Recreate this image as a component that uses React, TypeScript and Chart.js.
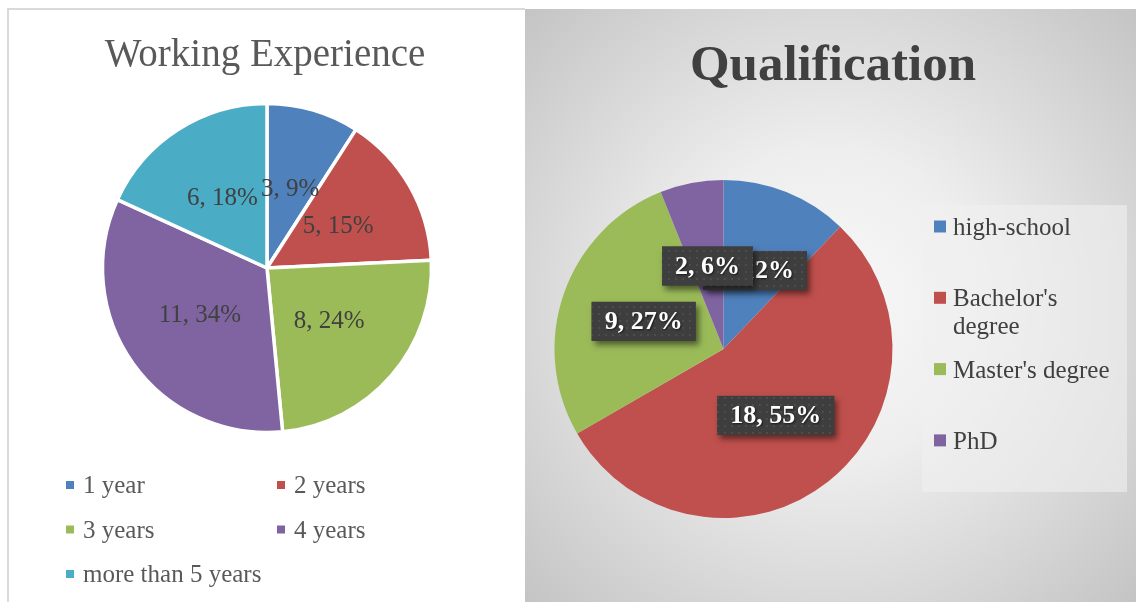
import React, { useEffect, useRef } from "react";
import { Chart, registerables } from "chart.js";

Chart.register(...registerables);

// ---------- data ----------
const expTitle = "Working Experience";
const expCategories = ["1 year", "2 years", "3 years", "4 years", "more than 5 years"];
const expValues = [3, 5, 8, 11, 6];
const expPercentLabels = ["9%", "15%", "24%", "34%", "18%"];

const qualTitle = "Qualification";
const qualCategories = ["high-school", "Bachelor's degree", "Master's degree", "PhD"];
const qualValues = [4, 18, 9, 2];
const qualPercentLabels = ["12%", "55%", "27%", "6%"];

const COLORS = ["#4F81BD", "#C0504D", "#9BBB59", "#8064A2", "#4BACC6"];
const SERIF = "'Liberation Serif', 'DejaVu Serif', serif";

// ---------- plugins ----------
const expPlugin = {
  id: "expDecor",
  afterDatasetsDraw(chart: any) {
    const ctx = chart.ctx;
    const meta = chart.getDatasetMeta(0);
    ctx.save();
    ctx.font = `25px ${SERIF}`;
    ctx.fillStyle = "#404040";
    ctx.textAlign = "center";
    ctx.textBaseline = "middle";
    meta.data.forEach((arc: any, i: number) => {
      const p = arc.getCenterPoint();
      ctx.fillText(`${expValues[i]}, ${expPercentLabels[i]}`, p.x, p.y);
    });
    ctx.restore();
  },
  afterDraw(chart: any) {
    const ctx = chart.ctx;
    ctx.save();
    // title
    ctx.font = `39px ${SERIF}`;
    ctx.fillStyle = "#595959";
    ctx.textAlign = "center";
    ctx.textBaseline = "alphabetic";
    ctx.fillText(expTitle, 265, 66);
    // legend (2 columns)
    ctx.font = `25px ${SERIF}`;
    ctx.textAlign = "left";
    const colX = [66, 277];
    expCategories.forEach((label, i) => {
      const col = i % 2;
      const row = Math.floor(i / 2);
      const cy = 485 + row * 44.5;
      ctx.fillStyle = COLORS[i];
      ctx.fillRect(colX[col], cy - 4, 8, 8);
      ctx.fillStyle = "#595959";
      ctx.fillText(label, colX[col] + 17, cy + 8);
    });
    ctx.restore();
  },
};

function makeDotPattern(ctx: CanvasRenderingContext2D) {
  const c = document.createElement("canvas");
  c.width = 7;
  c.height = 7;
  const g = c.getContext("2d")!;
  g.fillStyle = "#3e3e3e";
  g.fillRect(0, 0, 7, 7);
  g.fillStyle = "#4c4c4c";
  g.fillRect(3, 3, 2, 2);
  return ctx.createPattern(c, "repeat");
}

function wrapText(ctx: CanvasRenderingContext2D, text: string, maxW: number) {
  const words = text.split(" ");
  const lines: string[] = [];
  let cur = "";
  words.forEach((w) => {
    const t = cur ? cur + " " + w : w;
    if (ctx.measureText(t).width > maxW && cur) {
      lines.push(cur);
      cur = w;
    } else cur = t;
  });
  if (cur) lines.push(cur);
  return lines;
}

const qualPlugin = {
  id: "qualDecor",
  beforeDraw(chart: any) {
    const ctx = chart.ctx;
    const w = chart.width;
    const h = chart.height;
    ctx.save();
    const g = ctx.createRadialGradient(305, 296, 0, 305, 296, 440);
    g.addColorStop(0, "#f8f8f8");
    g.addColorStop(0.35, "#eeeeee");
    g.addColorStop(1, "#c2c2c2");
    ctx.fillStyle = g;
    ctx.fillRect(0, 0, w, h);
    // legend box
    ctx.fillStyle = "rgba(240,240,240,0.6)";
    ctx.fillRect(397, 196, 205, 287);
    ctx.restore();
  },
  afterDatasetsDraw(chart: any) {
    const ctx = chart.ctx;
    const meta = chart.getDatasetMeta(0);
    const pattern = makeDotPattern(ctx);
    ctx.save();
    ctx.font = `bold 26px ${SERIF}`;
    ctx.textAlign = "center";
    ctx.textBaseline = "middle";
    meta.data.forEach((arc: any, i: number) => {
      const p = arc.getCenterPoint();
      const text = `${qualValues[i]}, ${qualPercentLabels[i]}`;
      const tw = ctx.measureText(text).width;
      const bw = tw + 26;
      const bh = 39;
      const bx = p.x - bw / 2;
      const by = p.y - bh / 2;
      ctx.save();
      ctx.shadowColor = "rgba(0,0,0,0.5)";
      ctx.shadowBlur = 6;
      ctx.shadowOffsetX = 3;
      ctx.shadowOffsetY = 4;
      ctx.fillStyle = "#3e3e3e";
      ctx.fillRect(bx, by, bw, bh);
      ctx.restore();
      if (pattern) {
        ctx.fillStyle = pattern;
        ctx.fillRect(bx, by, bw, bh);
      }
      ctx.save();
      ctx.shadowColor = "rgba(0,0,0,0.6)";
      ctx.shadowBlur = 2;
      ctx.shadowOffsetX = 1;
      ctx.shadowOffsetY = 1;
      ctx.fillStyle = "#ffffff";
      ctx.fillText(text, p.x, p.y + 1);
      ctx.restore();
    });
    ctx.restore();
  },
  afterDraw(chart: any) {
    const ctx = chart.ctx;
    ctx.save();
    ctx.font = `bold 51px ${SERIF}`;
    ctx.fillStyle = "#404040";
    ctx.textAlign = "center";
    ctx.textBaseline = "alphabetic";
    ctx.fillText(qualTitle, 308, 71);
    // legend
    ctx.font = `25px ${SERIF}`;
    ctx.textAlign = "left";
    qualCategories.forEach((label, i) => {
      const base = 226 + i * 71.3;
      ctx.fillStyle = COLORS[i];
      ctx.fillRect(409, base - 14.5, 12, 12);
      ctx.fillStyle = "#404040";
      const lines = wrapText(ctx, label, 168);
      lines.forEach((ln, j) => ctx.fillText(ln, 428, base + j * 28));
    });
    ctx.restore();
  },
};

export default function App() {
  const leftRef = useRef<HTMLCanvasElement>(null);
  const rightRef = useRef<HTMLCanvasElement>(null);

  useEffect(() => {
    const left = new Chart(leftRef.current!, {
      type: "pie",
      data: {
        labels: expCategories,
        datasets: [
          {
            data: expValues,
            backgroundColor: COLORS.slice(0, expValues.length),
            borderColor: "#ffffff",
            borderWidth: 3.5,
            hoverOffset: 0,
            hoverBorderWidth: 0,
            radius: 164.5,
          },
        ],
      },
      options: {
        animation: false,
        responsive: false,
        events: [],
        layout: { padding: { left: 104, top: 105, right: 95, bottom: 171 } },
        plugins: {
          legend: { display: false },
          title: { display: false },
          tooltip: { enabled: false },
        },
      },
      plugins: [expPlugin],
    });

    const right = new Chart(rightRef.current!, {
      type: "pie",
      data: {
        labels: qualCategories,
        datasets: [
          {
            data: qualValues,
            backgroundColor: COLORS.slice(0, qualValues.length),
            borderWidth: 0,
            hoverOffset: 0,
            hoverBorderWidth: 0,
          },
        ],
      },
      options: {
        animation: false,
        responsive: false,
        events: [],
        layout: { padding: { left: 29.5, top: 171, right: 243.5, bottom: 84 } },
        plugins: {
          legend: { display: false },
          title: { display: false },
          tooltip: { enabled: false },
        },
      },
      plugins: [qualPlugin],
    });

    return () => {
      left.destroy();
      right.destroy();
    };
  }, []);

  return (
    <div
      style={{
        position: "absolute",
        left: 0,
        top: 0,
        width: 1136,
        height: 602,
        overflow: "hidden",
        background: "#ffffff",
      }}
    >
      <div
        style={{
          position: "absolute",
          left: 7,
          top: 8,
          width: 518,
          height: 600,
          boxSizing: "border-box",
          borderLeft: "2px solid #d9d9d9",
          borderTop: "2px solid #d9d9d9",
          background: "#ffffff",
        }}
      />
      <canvas
        ref={leftRef}
        width={525}
        height={602}
        style={{ position: "absolute", left: 0, top: 0, display: "block" }}
      />
      <canvas
        ref={rightRef}
        width={611}
        height={593}
        style={{ position: "absolute", left: 525, top: 9, display: "block" }}
      />
    </div>
  );
}
